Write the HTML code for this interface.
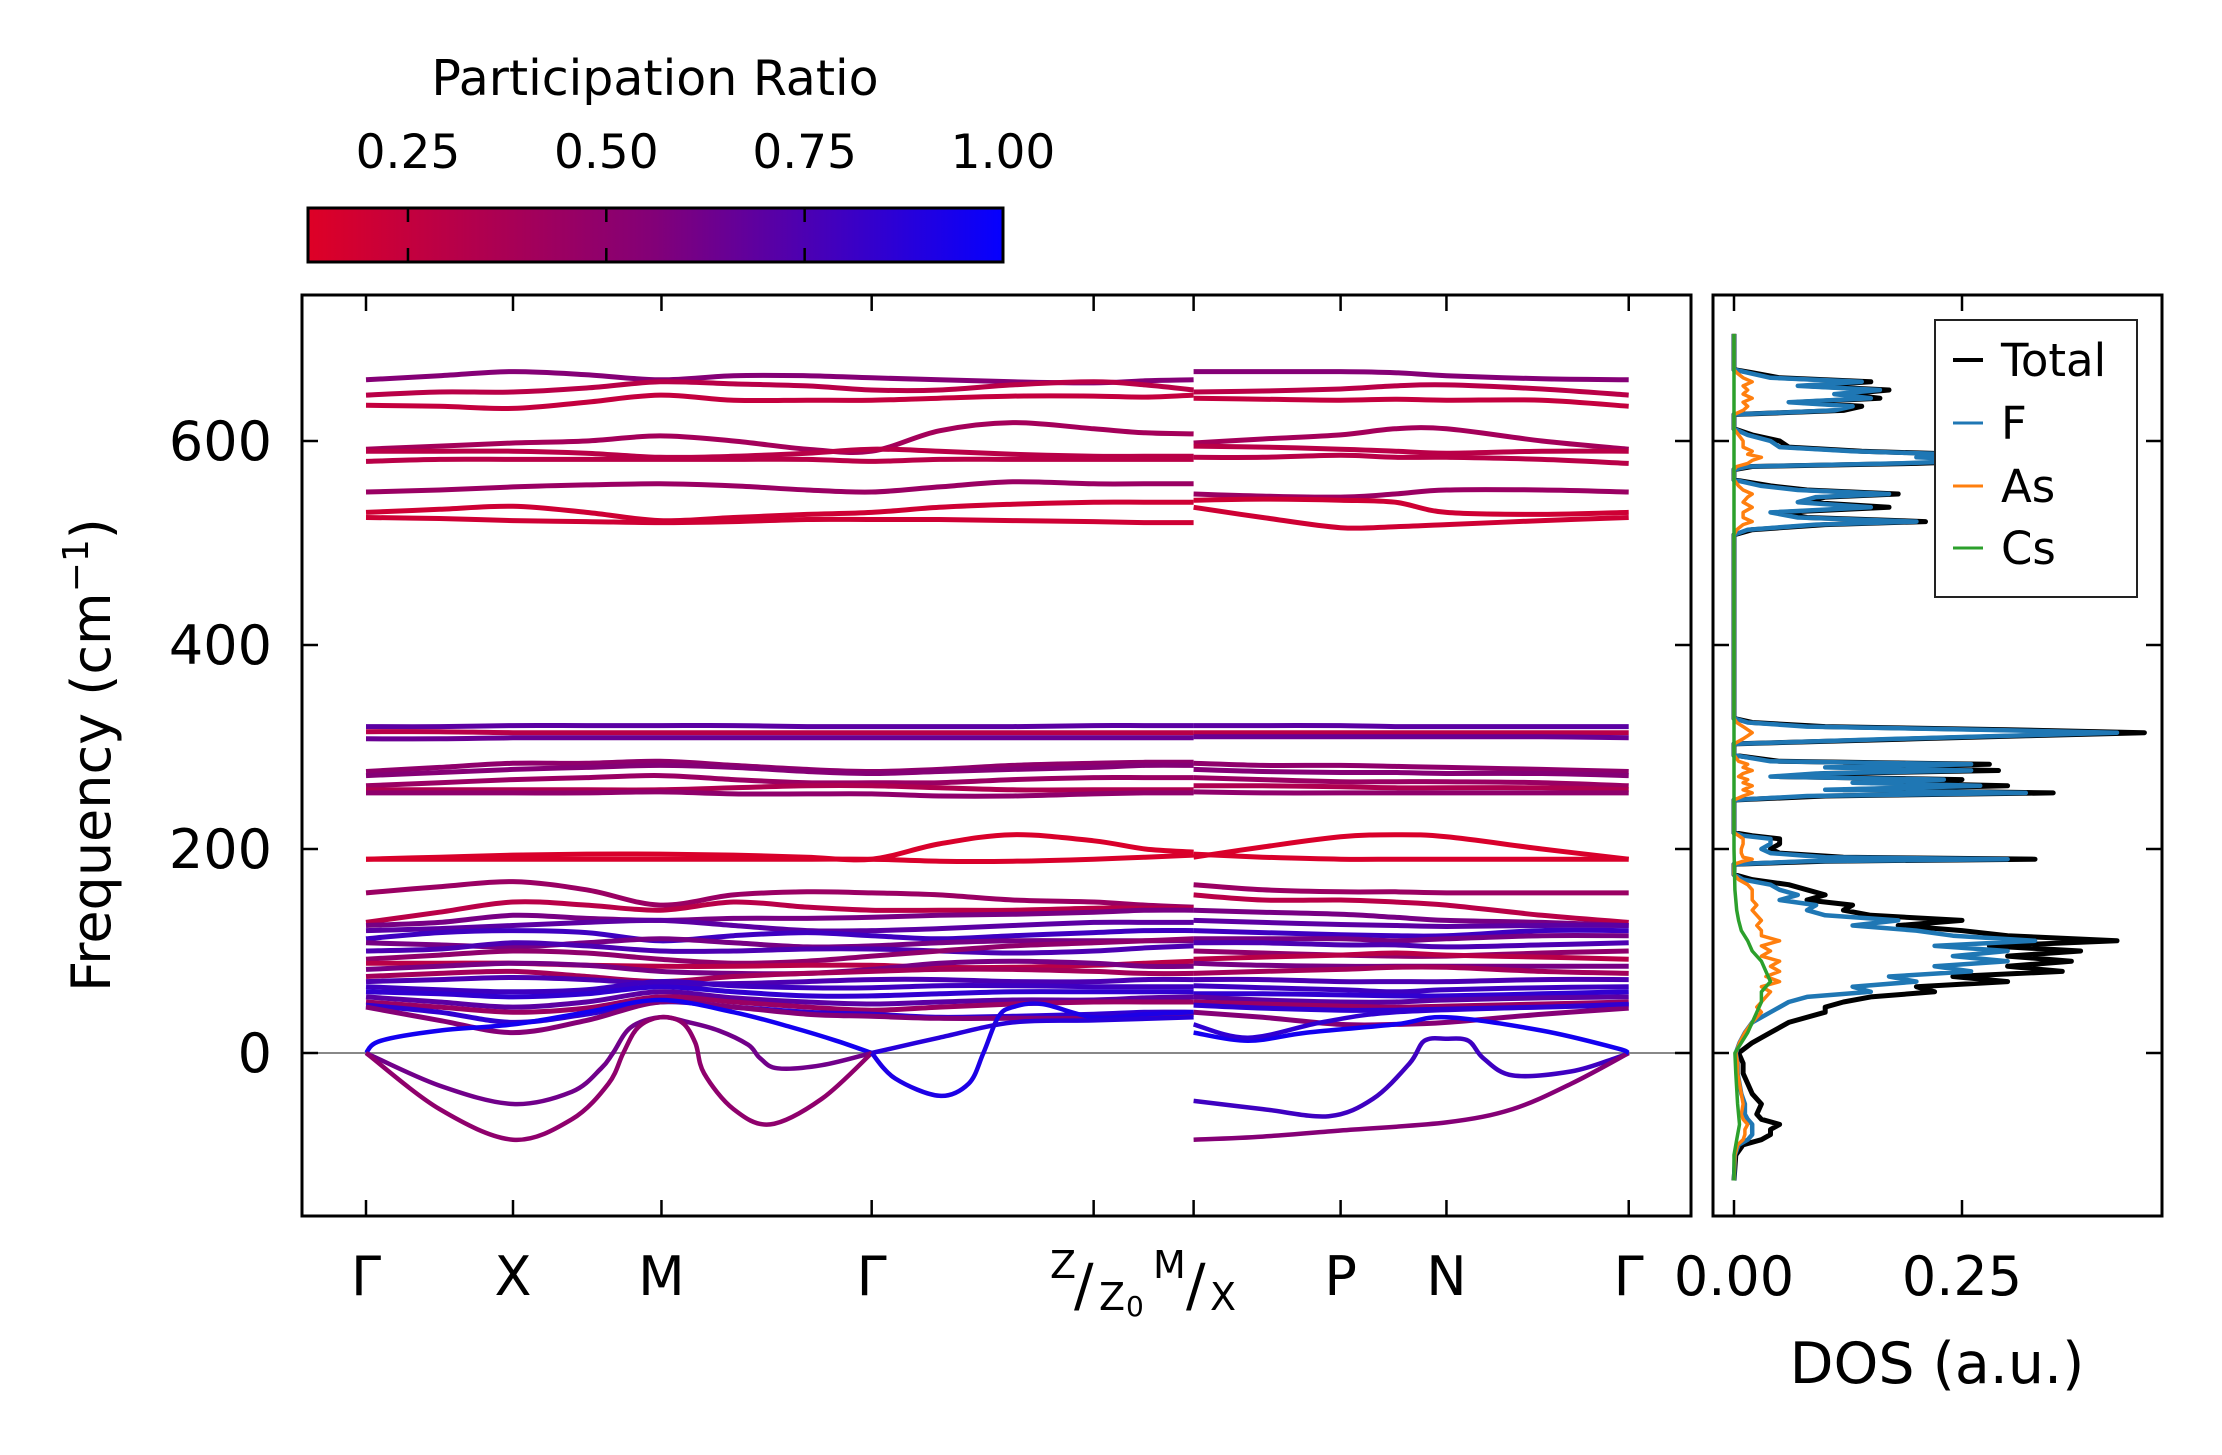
<!DOCTYPE html>
<html><head><meta charset="utf-8">
<style>
html,body{margin:0;padding:0;background:#fff;}
svg{display:block;font-family:"DejaVu Sans","Liberation Sans",sans-serif;}
</style></head>
<body>
<svg id="fig" width="2222" height="1455" viewBox="0 0 2222 1455" xmlns="http://www.w3.org/2000/svg">
<defs>
<linearGradient id="cmap" x1="0" x2="1" y1="0" y2="0">
<stop offset="0" stop-color="rgb(222,0,38)"/>
<stop offset="0.5" stop-color="rgb(130,0,120)"/>
<stop offset="1" stop-color="rgb(5,0,255)"/>
</linearGradient>
<clipPath id="mainClip"><rect x="302" y="295" width="1389" height="921"/></clipPath>
<clipPath id="dosClip"><rect x="1713" y="295" width="449" height="921"/></clipPath>
</defs>
<g>
<text x="655" y="95" font-size="49" text-anchor="middle">Participation Ratio</text>
<rect x="308" y="208" width="695" height="54" fill="url(#cmap)" stroke="#000" stroke-width="3"/>
<g id="cbTicks"></g>
</g>
<g id="mainAx">
<line x1="302" x2="1691" y1="1053" y2="1053" stroke="#888" stroke-width="2"/>
<g id="bands" clip-path="url(#mainClip)"></g>
<rect x="302" y="295" width="1389" height="921" fill="none" stroke="#000" stroke-width="3"/>
<g id="mainTicks"></g>
<text transform="translate(110,755) rotate(-90)" font-size="54" text-anchor="middle">Frequency (cm<tspan font-size="36" dy="-22">−1</tspan><tspan dy="22">)</tspan></text>
<g font-size="52">
<text x="1050" y="1278" font-size="38">Z</text>
<text x="1074" y="1305" font-size="58">/</text>
<text x="1099" y="1310" font-size="38">Z</text>
<text x="1126" y="1316" font-size="28">0</text>
<text x="1153" y="1278" font-size="38">M</text>
<text x="1186" y="1305" font-size="58">/</text>
<text x="1210" y="1310" font-size="38">X</text>
</g>
</g>
<g id="dosAx">
<g id="dos" clip-path="url(#dosClip)"></g>
<rect x="1713" y="295" width="449" height="921" fill="none" stroke="#000" stroke-width="3"/>
<g id="dosTicks"></g>
<text x="1937" y="1383" font-size="57" text-anchor="middle">DOS (a.u.)</text>
<g>
<rect x="1935" y="320" width="202" height="277" fill="#fff" stroke="#222" stroke-width="2"/>
<g><line x1="1953" x2="1983" y1="360" y2="360" stroke="#000" stroke-width="4"/><text x="2001" y="376" font-size="45">Total</text></g>
<g><line x1="1953" x2="1983" y1="423" y2="423" stroke="#1f77b4" stroke-width="3"/><text x="2001" y="439" font-size="45">F</text></g>
<g><line x1="1953" x2="1983" y1="486" y2="486" stroke="#ff7f0e" stroke-width="3"/><text x="2001" y="502" font-size="45">As</text></g>
<g><line x1="1953" x2="1983" y1="548" y2="548" stroke="#2ca02c" stroke-width="3"/><text x="2001" y="564" font-size="45">Cs</text></g>
</g>
</g>
</svg>
<script>
// ---------- data ----------
const kLeft = [0,0.5,1,1.5,2,2.5,3,3.44,3.9,4.4,4.95,5.3,5.63];
const kRight = [5.63,6.1,6.63,7.0,7.35,8.0,8.59];
const kTickPos = [0,1,2.01,3.44,4.95,5.63,6.63,7.35,8.59];
const kTickLabels = ["Γ","X","M","Γ","","","P","N","Γ"];
const freqTicks = [0,200,400,600];
const cbTicks = [0.25,0.5,0.75,1.0];
const cbTickLabels = ["0.25","0.50","0.75","1.00"];
const dosTicks = [0,0.25];
const dosTickLabels = ["0.00","0.25"];

const bandLeft = [
[660,664,668,665,660,664,664,662,660,658,657,659,660],
[645,648,648,652,658,656,654,650,650,655,658,655,650],
[635,634,632,638,645,640,640,640,642,644,644,643,645],
[592,595,598,600,605,600,592,590,610,618,612,608,607],
[590,590,590,588,584,585,588,592,590,587,585,585,585],
[580,582,582,582,582,582,582,580,582,582,582,582,582],
[550,552,555,557,558,556,552,550,555,560,558,558,558],
[530,533,536,530,522,525,528,530,535,538,540,540,540],
[525,524,522,521,520,521,523,523,523,522,521,520,520],
[320,320,321,321,321,321,320,320,320,320,321,321,321],
[315,315,314,314,314,314,314,314,314,314,314,314,314],
[308,308,309,309,309,309,309,309,309,309,309,309,309],
[276,280,284,284,286,282,278,276,278,282,284,285,285],
[272,275,278,280,282,280,276,274,276,278,280,282,282],
[262,265,268,270,272,268,265,265,265,268,270,270,270],
[258,258,258,258,258,260,262,262,260,258,258,258,258],
[255,255,255,255,256,254,254,254,252,252,254,255,255],
[190,192,194,195,195,194,192,190,205,214,208,200,197],
[190,190,190,190,190,190,190,190,188,188,190,192,194],
[157,163,168,160,145,155,158,157,155,150,148,145,143],
[128,138,148,145,140,148,143,140,140,140,142,142,142],
[125,128,135,132,130,132,132,133,135,136,138,140,140],
[120,122,125,128,130,125,120,120,122,125,128,128,128],
[112,118,120,118,110,115,118,115,112,115,118,120,120],
[108,106,104,108,112,108,104,105,108,110,110,110,110],
[100,102,108,105,100,100,102,102,100,98,100,103,105],
[92,96,100,98,92,88,90,95,100,105,108,110,112],
[88,88,88,86,85,85,86,86,84,84,86,88,90],
[82,85,88,86,80,78,78,82,88,90,88,85,85],
[75,78,80,75,70,75,78,80,82,82,80,78,78],
[70,72,74,72,68,68,70,72,72,70,70,72,72],
[65,62,60,62,70,66,64,64,66,66,65,65,65],
[60,58,55,58,65,60,56,56,58,60,60,60,60],
[55,50,45,50,60,54,50,48,50,52,52,54,55],
[50,45,40,44,55,50,45,42,45,48,50,50,50],
[47,40,30,38,50,45,40,38,35,36,38,40,40],
[45,32,20,32,50,45,38,36,34,34,34,36,38]
];
const bandRight = [
[668,668,668,667,664,661,660],
[648,649,651,654,655,651,645],
[642,641,640,641,640,640,634],
[598,602,606,612,612,600,592],
[595,594,592,590,588,590,590],
[584,584,586,584,584,582,578],
[548,546,545,548,552,552,550],
[542,543,542,540,530,528,530],
[535,525,515,516,518,522,525],
[321,321,321,320,320,320,320],
[314,314,314,314,314,314,314],
[310,310,310,310,310,310,309],
[284,282,282,281,280,278,276],
[278,276,275,275,274,274,272],
[270,268,266,266,266,265,262],
[262,262,261,260,260,260,258],
[256,255,255,255,255,255,255],
[192,202,212,214,212,200,190],
[195,192,190,190,190,190,190],
[165,160,158,158,157,157,157],
[155,150,150,148,145,135,128],
[140,138,136,133,130,128,125],
[130,128,126,125,124,125,125],
[120,118,116,115,115,120,120],
[112,112,112,110,112,115,115],
[108,108,106,106,104,106,108],
[100,98,96,95,95,98,100],
[92,94,96,98,96,94,92],
[88,86,85,85,85,85,85],
[78,80,82,84,84,80,78],
[72,72,70,70,70,72,72],
[66,64,62,60,62,64,65],
[58,58,57,56,56,58,60],
[55,52,50,50,52,54,55],
[50,48,46,45,46,48,50],
[47,44,42,42,43,45,47],
[40,35,28,28,30,38,44]
];
const bandPR = [0.55,0.3,0.25,0.4,0.3,0.3,0.45,0.2,0.2,0.7,0.3,0.65,0.5,0.55,0.45,0.35,0.5,0.15,0.15,0.45,0.3,0.6,0.7,0.8,0.6,0.75,0.5,0.3,0.6,0.4,0.75,0.8,0.85,0.7,0.45,0.85,0.55];

const acK = [
[0,0.1,0.5,1,1.5,2,2.5,2.9,3.2,3.44],
[0,0.5,1,1.4,1.6,1.68,1.8,2.0,2.2,2.4,2.6,2.68,2.8,3.1,3.44],
[0,0.5,1,1.4,1.65,1.75,1.85,2.0,2.15,2.24,2.3,2.5,2.75,3.1,3.44],
[3.44,3.6,3.9,4.1,4.2,4.3,4.4,4.6,4.95,5.3,5.63],
[3.44,3.9,4.4,4.95,5.63],
[5.63,6.1,6.55,6.85,7.1,7.2,7.35,7.5,7.6,7.8,8.2,8.5,8.59],
[5.63,6.1,6.63,7.35,7.8,8.2,8.59],
[5.63,6.0,6.4,7.0,7.35,8.0,8.5,8.59],
[5.63,6.0,6.5,7.0,8.0,8.59]
];
const acF = [
[0,12,22,28,40,52,40,25,12,0],
[0,-32,-50,-38,-15,0,25,35,30,22,8,-5,-15,-12,0],
[0,-55,-85,-65,-30,0,25,35,30,10,-20,-55,-70,-45,0],
[0,-25,-42,-30,0,35,45,48,35,38,40],
[0,15,30,32,35],
[-47,-55,-62,-45,-10,12,14,12,-5,-22,-18,-5,0],
[-85,-82,-76,-68,-55,-30,0],
[20,12,20,28,35,22,5,0],
[28,15,30,40,45,48]
];
const acPR = [0.95,0.62,0.5,0.92,0.88,0.8,0.55,0.95,0.85];

const dosFreq = [-125,-100,-90,-85,-80,-75,-70,-65,-60,-50,
-40,-30,-20,-10,0,10,20,30,40,45,
50,55,60,65,70,75,80,85,90,95,
100,105,110,115,120,125,130,135,140,145,
150,155,160,165,170,175,185,188,190,192,
196,200,205,210,213,216,248,252,255,258,
262,265,268,271,274,277,280,283,286,292,
303,308,311,314,317,320,324,328,508,513,
518,521,525,530,535,540,545,548,552,556,
562,572,575,578,581,584,587,590,594,600,
606,612,626,630,634,638,642,646,650,654,
658,662,667,670,705];
const dosTotal = [0,0.002,0.01,0.03,0.04,0.04,0.05,0.03,0.025,0.03,
0.02,0.015,0.01,0.01,0.005,0.02,0.04,0.06,0.1,0.1,
0.12,0.15,0.22,0.2,0.3,0.24,0.36,0.3,0.37,0.3,
0.38,0.28,0.42,0.3,0.25,0.18,0.25,0.15,0.12,0.13,
0.08,0.1,0.08,0.06,0.02,0,0,0.1,0.33,0.12,
0.05,0.04,0.05,0.05,0.02,0,0,0.1,0.35,0.12,
0.3,0.15,0.25,0.05,0.1,0.29,0.12,0.28,0.05,0,
0,0.2,0.32,0.45,0.3,0.1,0.02,0,0,0.02,
0.1,0.21,0.08,0.05,0.17,0.08,0.1,0.18,0.08,0.04,
0,0,0.02,0.2,0.3,0.22,0.25,0.14,0.06,0.05,
0.02,0,0,0.12,0.14,0.07,0.16,0.12,0.17,0.08,
0.15,0.05,0.02,0,0];
const dosF = [0,0.001,0.005,0.015,0.02,0.02,0.02,0.015,0.012,0.012,
0.008,0.006,0.004,0.004,0.002,0.006,0.012,0.02,0.04,0.05,
0.06,0.08,0.15,0.13,0.2,0.17,0.26,0.22,0.3,0.24,
0.3,0.22,0.33,0.24,0.2,0.13,0.18,0.1,0.08,0.09,
0.05,0.07,0.05,0.04,0.01,0,0,0.08,0.3,0.1,
0.04,0.03,0.04,0.04,0.01,0,0,0.08,0.32,0.1,
0.27,0.13,0.23,0.04,0.09,0.26,0.1,0.26,0.04,0,
0,0.18,0.3,0.42,0.27,0.08,0.015,0,0,0.015,
0.09,0.2,0.07,0.04,0.15,0.07,0.09,0.17,0.07,0.03,
0,0,0.015,0.18,0.28,0.2,0.24,0.13,0.05,0.04,
0.015,0,0,0.11,0.13,0.06,0.15,0.11,0.16,0.07,
0.14,0.04,0.015,0,0];
const dosAs = [0,0.001,0.004,0.01,0.012,0.012,0.015,0.01,0.008,0.01,
0.008,0.006,0.004,0.004,0.002,0.006,0.012,0.02,0.03,0.025,
0.03,0.035,0.04,0.03,0.05,0.035,0.05,0.04,0.05,0.03,
0.04,0.03,0.05,0.03,0.03,0.025,0.03,0.025,0.02,0.025,
0.02,0.02,0.02,0.015,0.005,0,0,0.01,0.02,0.01,
0.008,0.008,0.01,0.01,0.005,0,0,0.01,0.02,0.01,
0.02,0.01,0.015,0.005,0.01,0.02,0.01,0.015,0.005,0,
0,0.01,0.015,0.02,0.015,0.01,0.003,0,0,0.003,
0.01,0.02,0.01,0.01,0.02,0.01,0.015,0.02,0.01,0.005,
0,0,0.003,0.015,0.02,0.03,0.015,0.02,0.01,0.01,
0.005,0,0,0.01,0.015,0.01,0.02,0.01,0.015,0.01,
0.02,0.01,0.003,0,0];
const csFreq = [-125,-100,-85,-70,-50,-20,0,10,20,30,40,50,60,70,80,90,100,110,120,130,140,160,200,705];
const dosCs = [0,0,0.003,0.006,0.004,0.002,0.001,0.008,0.015,0.02,0.025,0.03,0.03,0.04,0.035,0.03,0.02,0.015,0.008,0.005,0.003,0.001,0,0];

// ---------- scales ----------
const X0 = 366, KPX = 147;
function xK(k){ return X0 + k*KPX; }
function yF(f){ return 1053 - f*1.02; }
function xD(v){ return 1734 + v*(228/0.25); }
function xCB(p){ return 308 + (p-0.124)*(695/(1-0.124)); }
function prColor(p){
  const t = Math.max(0, Math.min(1, (p-0.124)/(1-0.124)));
  let r,g=0,b;
  if(t<0.5){ const u=t/0.5; r=222+(130-222)*u; b=38+(120-38)*u; }
  else { const u=(t-0.5)/0.5; r=130+(5-130)*u; b=120+(255-120)*u; }
  return `rgb(${Math.round(r)},${g},${Math.round(b)})`;
}
const NS = "http://www.w3.org/2000/svg";
function smoothPath(xs, ys){
  let d = `M${xs[0].toFixed(1)},${ys[0].toFixed(1)}`;
  for(let i=0;i<xs.length-1;i++){
    const x0=xs[Math.max(0,i-1)], y0=ys[Math.max(0,i-1)];
    const x1=xs[i], y1=ys[i], x2=xs[i+1], y2=ys[i+1];
    const x3=xs[Math.min(xs.length-1,i+2)], y3=ys[Math.min(xs.length-1,i+2)];
    const c1x=x1+(x2-x0)/6, c1y=y1+(y2-y0)/6, c2x=x2-(x3-x1)/6, c2y=y2-(y3-y1)/6;
    d += ` C${c1x.toFixed(1)},${c1y.toFixed(1)} ${c2x.toFixed(1)},${c2y.toFixed(1)} ${x2.toFixed(1)},${y2.toFixed(1)}`;
  }
  return d;
}
function mk(tag, attrs, parent){
  const e = document.createElementNS(NS, tag);
  for(const k in attrs) e.setAttribute(k, attrs[k]);
  parent.appendChild(e); return e;
}

// ---------- bands ----------
const gB = document.getElementById('bands');
bandLeft.forEach((vals,i)=>{
  const p = mk('path',{d:smoothPath(kLeft.map(xK), vals.map(yF)), fill:'none', stroke:prColor(bandPR[i]), 'stroke-width':5}, gB);
  
  
});
bandRight.forEach((vals,i)=>{
  const p = mk('path',{d:smoothPath(kRight.map(xK), vals.map(yF)), fill:'none', stroke:prColor(bandPR[i]), 'stroke-width':5}, gB);
  
  
});
acK.forEach((ks,i)=>{
  const p = mk('path',{d:smoothPath(ks.map(xK), acF[i].map(yF)), fill:'none', stroke:prColor(acPR[i]), 'stroke-width':4.5}, gB);
  
  
});

// ---------- main ticks ----------
const gT = document.getElementById('mainTicks');
kTickPos.forEach((k,i)=>{
  const x = xK(k);
  const t1 = mk('line',{x1:x,x2:x,y1:1216,y2:1200,stroke:'#000','stroke-width':2.5}, gT);
  
  
  const t2 = mk('line',{x1:x,x2:x,y1:295,y2:311,stroke:'#000','stroke-width':2.5}, gT);
  
  
  if(kTickLabels[i]){
    const tx = mk('text',{x:x,y:1295,'font-size':54,'text-anchor':'middle'}, gT);
    tx.textContent = kTickLabels[i];
    
    
  }
});
freqTicks.forEach(f=>{
  const y = yF(f);
  [[302,318],[1691,1675],[1713,1729],[2162,2146]].forEach(([a,b])=>{
    const t = mk('line',{x1:a,x2:b,y1:y,y2:y,stroke:'#000','stroke-width':2.5}, gT);
    
    
  });
  const tx = mk('text',{x:272,y:y+19,'font-size':54,'text-anchor':'end'}, gT);
  tx.textContent = String(f);
  
  
});

// ---------- colorbar ticks ----------
const gC = document.getElementById('cbTicks');
cbTicks.forEach((p,i)=>{
  const x = xCB(p);
  const t1 = mk('line',{x1:x,x2:x,y1:208,y2:222,stroke:'#000','stroke-width':2.5}, gC);
  
  
  const t2 = mk('line',{x1:x,x2:x,y1:262,y2:248,stroke:'#000','stroke-width':2.5}, gC);
  
  
  const tx = mk('text',{x:x,y:168,'font-size':47,'text-anchor':'middle'}, gC);
  tx.textContent = cbTickLabels[i];
  
  
});

// ---------- DOS ----------
const gD = document.getElementById('dos');
function dosLine(fr, vals, color, w, name){
  const pts = fr.map((f,i)=>`${xD(vals[i]).toFixed(1)},${yF(f).toFixed(1)}`).join(' ');
  const p = mk('polyline',{points:pts, fill:'none', stroke:color, 'stroke-width':w, 'stroke-linejoin':'round'}, gD);
  
  
}
dosLine(dosFreq, dosTotal, '#000', 5, 'dos-total');
dosLine(dosFreq, dosF, '#1f77b4', 4.5, 'dos-f');
dosLine(dosFreq, dosAs, '#ff7f0e', 3.5, 'dos-as');
dosLine(csFreq, dosCs, '#2ca02c', 3.5, 'dos-cs');

const gDT = document.getElementById('dosTicks');
dosTicks.forEach((v,i)=>{
  const x = xD(v);
  const t1 = mk('line',{x1:x,x2:x,y1:1216,y2:1200,stroke:'#000','stroke-width':2.5}, gDT);
  
  
  const t2 = mk('line',{x1:x,x2:x,y1:295,y2:311,stroke:'#000','stroke-width':2.5}, gDT);
  
  
  const tx = mk('text',{x:x,y:1295,'font-size':54,'text-anchor':'middle'}, gDT);
  tx.textContent = dosTickLabels[i];
  
  
});
</script>
</body></html>
